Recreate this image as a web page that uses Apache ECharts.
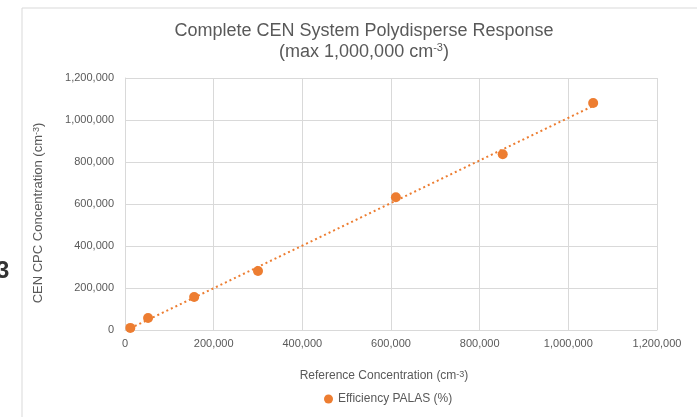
<!DOCTYPE html>
<html>
<head>
    <meta charset="UTF-8">
    <title>Complete CEN System Polydisperse Response</title>
    <style>
        html, body {
            height: 100%;
            margin: 0;
            padding: 0;
            background: #fff;
        }
        #chart-container {
            width: 697px;
            height: 417px;
        }
    </style>
</head>
<body>
<div id="chart-container"></div>

<script src="https://cdn.jsdelivr.net/npm/echarts@6/dist/echarts.min.js"></script>
<script>
    // 参考浓度 (x) 与 CEN CPC 浓度 (y)
    const refConc = [12000, 52000, 156000, 300000, 611000, 852000, 1056000];
    const cpcConc = [10000, 57000, 157000, 281000, 632000, 837000, 1081000];
    const axisTicks = [0, 200000, 400000, 600000, 800000, 1000000, 1200000];

    const orange = '#ED7D31';
    const textGray = '#595959';
    const gridGray = '#D9D9D9';

    // 线性趋势线 (最小二乘)
    const n = refConc.length;
    let sx = 0, sy = 0, sxx = 0, sxy = 0;
    for (let i = 0; i < n; i++) {
        sx += refConc[i]; sy += cpcConc[i];
        sxx += refConc[i] * refConc[i]; sxy += refConc[i] * cpcConc[i];
    }
    const slope = (n * sxy - sx * sy) / (n * sxx - sx * sx);
    const icpt = (sy - slope * sx) / n;
    const xMin = Math.min(...refConc), xMax = Math.max(...refConc);
    const trend = [[xMin, icpt + slope * xMin], [xMax, icpt + slope * xMax]];

    const fmt = v => v.toLocaleString('en-US');
    const supSmall = { fontSize: 9, verticalAlign: 'top', color: textGray, lineHeight: 10 };

    const chart = echarts.init(document.getElementById('chart-container'));
    const option = {
        textStyle: { fontFamily: 'Liberation Sans, Arial, sans-serif' },
        title: {
            text: 'Complete CEN System Polydisperse Response\n(max 1,000,000 cm{sup|-3})',
            left: 359,
            textAlign: 'center',
            top: 16,
            textStyle: {
                fontSize: 18,
                fontWeight: 'normal',
                color: textGray,
                lineHeight: 21,
                rich: { sup: { fontSize: 11, verticalAlign: 'top', color: textGray, lineHeight: 12 } }
            }
        },
        graphic: [
            {
                type: 'rect',
                shape: { x: 22, y: 8, width: 700, height: 420 },
                style: { fill: 'none', stroke: gridGray, lineWidth: 1 },
                silent: true
            },
            {
                type: 'text',
                left: -4,
                top: 259,
                style: { text: '3', fontSize: 24, fontWeight: 'bold', fill: '#333', fontFamily: 'Liberation Sans, Arial' }
            }
        ],
        legend: {
            data: [{ name: 'Efficiency PALAS (%)', icon: 'circle' }],
            left: 319,
            top: 388,
            itemWidth: 9,
            itemHeight: 9,
            itemGap: 3,
            textStyle: { fontSize: 12, color: textGray }
        },
        grid: { left: 125, right: 40, top: 78, bottom: 87 },
        xAxis: {
            type: 'value',
            min: axisTicks[0],
            max: axisTicks[axisTicks.length - 1],
            interval: axisTicks[1] - axisTicks[0],
            name: 'Reference Concentration (cm{sup|-3})',
            nameLocation: 'middle',
            nameGap: 40,
            nameTextStyle: { fontSize: 12, color: textGray, padding: [0, 14, 0, 0], rich: { sup: supSmall } },
            axisLine: { show: true, lineStyle: { color: gridGray, width: 1 } },
            axisTick: { show: false },
            axisLabel: { color: textGray, fontSize: 11, margin: 8, formatter: fmt },
            splitLine: { show: true, lineStyle: { color: gridGray, width: 1 } }
        },
        yAxis: {
            type: 'value',
            min: axisTicks[0],
            max: axisTicks[axisTicks.length - 1],
            interval: axisTicks[1] - axisTicks[0],
            name: 'CEN CPC Concentration (cm{sup|-3})',
            nameLocation: 'middle',
            nameGap: 80,
            nameTextStyle: { fontSize: 13, color: textGray, padding: [0, 18, 0, 0], rich: { sup: supSmall } },
            axisLine: { show: true, lineStyle: { color: gridGray, width: 1 } },
            axisTick: { show: false },
            axisLabel: { color: textGray, fontSize: 11, margin: 11, formatter: fmt },
            splitLine: { show: true, lineStyle: { color: gridGray, width: 1 } }
        },
        series: [
            {
                name: 'Linear (Efficiency PALAS (%))',
                type: 'line',
                data: trend,
                symbol: 'none',
                silent: true,
                lineStyle: { color: orange, width: 2, type: [2, 3] },
                z: 1
            },
            {
                name: 'Efficiency PALAS (%)',
                type: 'scatter',
                data: refConc.map((x, i) => [x, cpcConc[i]]),
                symbol: 'circle',
                symbolSize: 10,
                itemStyle: { color: orange, opacity: 1 },
                z: 2
            }
        ]
    };
    chart.setOption(option);
</script>
</body>
</html>
